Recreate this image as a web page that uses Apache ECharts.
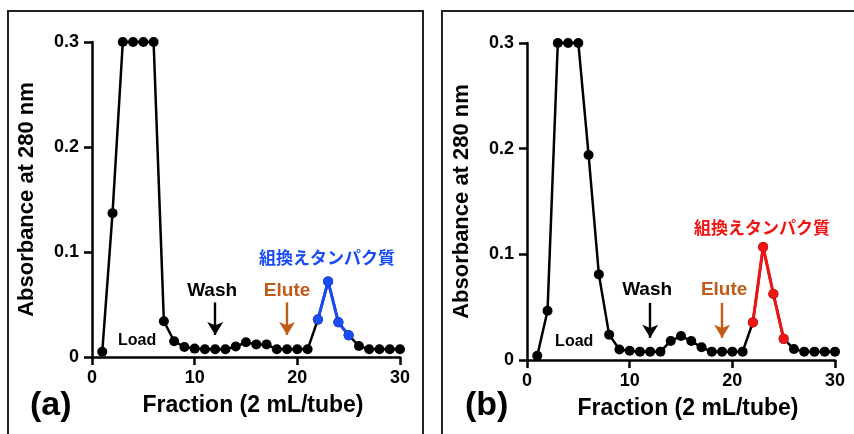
<!DOCTYPE html>
<html>
<head>
<meta charset="utf-8">
<script src="https://cdn.jsdelivr.net/npm/echarts@6/dist/echarts.min.js"></script>
<style>
  html, body { margin: 0; padding: 0; background: #fff; }
  #chart { width: 854px; height: 434px; }
</style>
</head>
<body>
<div id="chart"></div>
<script>
const fractions = [1, 2, 3, 4, 5, 6, 7, 8, 9, 10, 11, 12, 13, 14, 15,
                   16, 17, 18, 19, 20, 21, 22, 23, 24, 25, 26, 27, 28, 29, 30];
const absorbanceA = [0.005, 0.137, 0.3, 0.3, 0.3, 0.3, 0.034, 0.015, 0.0095, 0.008,
                     0.0073, 0.0073, 0.0073, 0.010, 0.014, 0.012, 0.012, 0.0073, 0.0073, 0.0073,
                     0.0073, 0.0356, 0.072, 0.033, 0.0206, 0.0105, 0.0073, 0.0073, 0.0073, 0.0073];
const absorbanceB = [0.004, 0.0466, 0.3, 0.3, 0.3, 0.194, 0.081, 0.024, 0.010, 0.0088,
                     0.0079, 0.0079, 0.0079, 0.018, 0.0227, 0.018, 0.012, 0.0079, 0.0079, 0.0079,
                     0.0079, 0.0356, 0.107, 0.0624, 0.020, 0.0104, 0.0079, 0.0079, 0.0079, 0.0079];
const peakFractions = [22, 23, 24, 25];
const xTicks = [0, 10, 20, 30];
const yTicks = [0, 0.1, 0.2, 0.3];

const FONT = '"Liberation Sans", Arial, Helvetica, sans-serif';
const JP = '"Noto Sans CJK JP", "Liberation Sans", sans-serif';
const ORANGE = '#c25a18';

const panels = [
  { tag: '(a)', values: absorbanceA, peakColor: '#1a4cf5',
    grid: { left: 92, top: 42, width: 308, height: 315 },
    notes: [
      { text: 'Load', x: 4.4, y: 0.016, color: '#000', size: 16, font: FONT },
      { text: 'Wash', x: 11.7, y: 0.0635, color: '#000', size: 19, font: FONT },
      { text: 'Elute', x: 19.0, y: 0.0635, color: ORANGE, size: 19, font: FONT },
      { text: '組換えタンパク質', x: 22.9, y: 0.095, color: '#1a4cf5', size: 17, font: JP }
    ],
    arrows: [{ x: 12, from: 0.052, to: 0.021, color: '#000' }, { x: 19, from: 0.052, to: 0.021, color: ORANGE }]
  },
  { tag: '(b)', values: absorbanceB, peakColor: '#f01414',
    grid: { left: 527, top: 43, width: 308, height: 317 },
    notes: [
      { text: 'Load', x: 4.6, y: 0.017, color: '#000', size: 16, font: FONT },
      { text: 'Wash', x: 11.7, y: 0.066, color: '#000', size: 19, font: FONT },
      { text: 'Elute', x: 19.2, y: 0.066, color: ORANGE, size: 19, font: FONT },
      { text: '組換えタンパク質', x: 22.9, y: 0.1257, color: '#f01414', size: 17, font: JP }
    ],
    arrows: [{ x: 12, from: 0.054, to: 0.021, color: '#000' }, { x: 19, from: 0.054, to: 0.021, color: ORANGE }]
  }
];

const grids = [], xAxes = [], yAxes = [], series = [];
panels.forEach((p, i) => {
  grids.push(p.grid);
  xAxes.push({
    gridIndex: i, type: 'value', min: 0, max: 30, interval: 10,
    name: 'Fraction (2 mL/tube)', nameLocation: 'middle', nameGap: 37,
    nameTextStyle: { fontFamily: FONT, fontWeight: 'bold', fontSize: 23, color: '#000', padding: [0, 0, 0, 14] },
    axisLine: { lineStyle: { color: '#000', width: 2.5 } },
    axisTick: { length: 8, lineStyle: { color: '#000', width: 2.5 } },
    axisLabel: { margin: 12, fontFamily: FONT, fontWeight: 'bold', fontSize: 18, color: '#000',
                 formatter: (v) => xTicks.includes(v) ? String(v) : '' },
    splitLine: { show: false }
  });
  yAxes.push({
    gridIndex: i, type: 'value', min: 0, max: 0.3, interval: 0.1,
    name: 'Absorbance at 280 nm', nameLocation: 'middle', nameGap: 54,
    nameTextStyle: { fontFamily: FONT, fontWeight: 'bold', fontSize: 22, color: '#000' },
    axisLine: { show: true, lineStyle: { color: '#000', width: 2.5 } },
    axisTick: { show: true, length: 8, lineStyle: { color: '#000', width: 2.5 } },
    axisLabel: { margin: 13, fontFamily: FONT, fontWeight: 'bold', fontSize: 18, color: '#000',
                 formatter: (v) => v === 0 ? '0' : (yTicks.some(t => Math.abs(t - v) < 1e-9) ? v.toFixed(1) : '') },
    splitLine: { show: false }
  });

  const pairs = fractions.map((f, k) => [f, p.values[k]]);
  series.push({
    type: 'line', xAxisIndex: i, yAxisIndex: i, data: pairs, clip: false,
    symbol: 'circle', symbolSize: 10,
    lineStyle: { color: '#000', width: 2.5 }, itemStyle: { color: '#000' },
    markLine: {
      silent: true, symbol: ['none', 'arrow'], symbolSize: [12, 13], label: { show: false },
      data: p.arrows.map(a => [
        { coord: [a.x, a.from], lineStyle: { color: a.color, width: 2.4, type: 'solid' }, itemStyle: { color: a.color } },
        { coord: [a.x, a.to] }
      ])
    }
  });
  series.push({
    type: 'line', xAxisIndex: i, yAxisIndex: i, clip: false, z: 3,
    data: peakFractions.map(f => [f, p.values[f - 1]]),
    symbol: 'circle', symbolSize: 10,
    lineStyle: { color: p.peakColor, width: 3 }, itemStyle: { color: p.peakColor }
  });
  series.push({
    type: 'scatter', xAxisIndex: i, yAxisIndex: i, symbolSize: 0, silent: true, z: 5,
    itemStyle: { opacity: 1 },
    data: p.notes.map(n => ({
      value: [n.x, n.y], name: n.text,
      label: { show: true, position: 'inside', formatter: n.text, color: n.color, opacity: 1,
               fontSize: n.size, fontWeight: 'bold', fontFamily: n.font }
    }))
  });
});

const chart = echarts.init(document.getElementById('chart'), null, { renderer: 'canvas' });
chart.setOption({
  animation: false,
  backgroundColor: '#fff',
  grid: grids,
  xAxis: xAxes,
  yAxis: yAxes,
  series: series,
  graphic: [
    { type: 'rect', shape: { x: 8, y: 11, width: 415, height: 440 }, style: { fill: 'none', stroke: '#222', lineWidth: 2 }, z: -1 },
    { type: 'rect', shape: { x: 442, y: 11, width: 430, height: 440 }, style: { fill: 'none', stroke: '#222', lineWidth: 2 }, z: -1 },
    { type: 'text', left: 30, top: 389, style: { text: '(a)', font: 'bold 34px ' + FONT, fill: '#000' } },
    { type: 'text', left: 465, top: 389, style: { text: '(b)', font: 'bold 34px ' + FONT, fill: '#000' } }
  ]
});
</script>
</body>
</html>
